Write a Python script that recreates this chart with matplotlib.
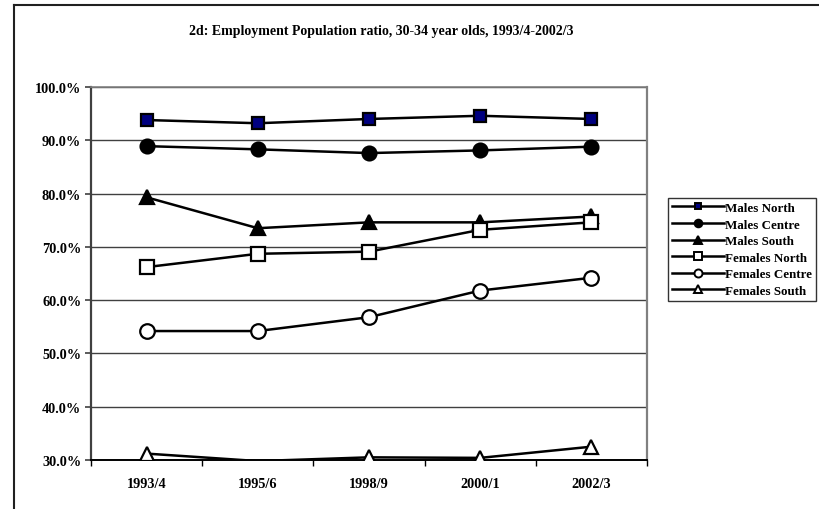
import matplotlib
matplotlib.use("Agg")
import matplotlib.pyplot as plt
from matplotlib.lines import Line2D
from matplotlib.ticker import FuncFormatter, FixedLocator

plt.rcParams['font.family'] = ['Liberation Serif', 'DejaVu Serif']
plt.rcParams['font.weight'] = 'bold'

# ── Data (employment / population ratio, %) ─────────────────────────────────
periods = ['1993/4', '1995/6', '1998/9', '2000/1', '2002/3']

males_north = [93.8, 93.2, 94.0, 94.6, 94.0]
males_centre = [88.9, 88.3, 87.6, 88.1, 88.8]
males_south = [79.3, 73.5, 74.6, 74.6, 75.7]
females_north = [66.2, 68.7, 69.1, 73.2, 74.6]
females_centre = [54.2, 54.2, 56.8, 61.8, 64.2]
females_south = [31.2, 29.8, 30.5, 30.4, 32.5]

series_names = ['Males North', 'Males Centre', 'Males South',
                'Females North', 'Females Centre', 'Females South']
series_values = [males_north, males_centre, males_south,
                 females_north, females_centre, females_south]

# marker, face colour, size
styles = [
    ('s', '#000080', 8.5),
    ('o', 'black', 10),
    ('^', 'black', 9.5),
    ('s', 'white', 10),
    ('o', 'white', 10.5),
    ('^', 'white', 10),
]

Y_MIN, Y_MAX = 30, 100

fig = plt.figure(figsize=(8.19, 5.10), dpi=100)
ax = fig.add_axes([91 / 819, 49 / 510, 556 / 819, 373 / 510])

x = list(range(len(periods)))
handles = []
for name, vals, (mk, fc, ms) in zip(series_names, series_values, styles):
    # points that fall below the axis minimum get no marker
    shown = [i for i, v in enumerate(vals) if v >= Y_MIN]
    ax.plot(x, vals, color='black', lw=1.8, marker=mk, markersize=ms,
            markevery=shown, markerfacecolor=fc, markeredgecolor='black',
            markeredgewidth=1.6, zorder=3)
    handles.append(Line2D([], [], color='black', lw=1.8, marker=mk,
                          markersize=ms * 0.55, markerfacecolor=fc,
                          markeredgecolor='black', markeredgewidth=1.4,
                          label=name))

ax.set_xlim(-0.5, len(periods) - 0.5)
ax.set_ylim(Y_MIN, Y_MAX)

# y axis: percent labels, gridlines
ax.set_yticks(range(Y_MIN, Y_MAX + 1, 10))
ax.yaxis.set_major_formatter(FuncFormatter(lambda v, p: f'{v:.1f}%'))
ax.yaxis.grid(True, color='#404040', lw=1.0, zorder=0)
ax.tick_params(axis='y', direction='out', length=4, width=1.2,
               color='#404040', labelsize=10.3, pad=3)

# x axis: labels at centres, tick marks between categories
ax.set_xticks(x)
ax.set_xticklabels(periods)
ax.xaxis.set_minor_locator(FixedLocator([i + 0.5 for i in range(-1, len(periods))]))
ax.tick_params(axis='x', which='major', length=0, labelsize=10.3, pad=12)
ax.tick_params(axis='x', which='minor', direction='out', length=4,
               width=1.0, color='black')
for lbl in ax.get_xticklabels() + ax.get_yticklabels():
    lbl.set_fontweight('bold')

ax.spines['left'].set_color('#404040')
ax.spines['left'].set_linewidth(1.6)
ax.spines['bottom'].set_color('black')
ax.spines['bottom'].set_linewidth(1.4)
ax.spines['right'].set_color('#808080')
ax.spines['right'].set_linewidth(1.6)
ax.spines['top'].set_color('#808080')
ax.spines['top'].set_linewidth(1.2)

fig.text(381 / 819, 1 - 31 / 510,
         '2d: Employment Population ratio, 30-34 year olds, 1993/4-2002/3',
         ha='center', va='center', fontsize=10, fontweight='bold')

leg = fig.legend(handles=handles, loc='upper left',
                 bbox_to_anchor=(668 / 819, 1 - 199 / 510),
                 prop={'family': 'Liberation Serif', 'weight': 'bold', 'size': 9.4},
                 frameon=True, fancybox=False, edgecolor='black',
                 handlelength=4.0, handletextpad=0.05, labelspacing=0.34,
                 borderpad=0.3, borderaxespad=0)
leg.get_frame().set_linewidth(1.0)

# outer chart border (left and top edges)
fig.add_artist(Line2D([14 / 819, 14 / 819], [0, 1 - 6 / 510],
                      transform=fig.transFigure, color='#202020', lw=1.5))
fig.add_artist(Line2D([14 / 819, 1], [1 - 6 / 510, 1 - 6 / 510],
                      transform=fig.transFigure, color='#202020', lw=1.5))

fig.savefig('out.png', dpi=100)
